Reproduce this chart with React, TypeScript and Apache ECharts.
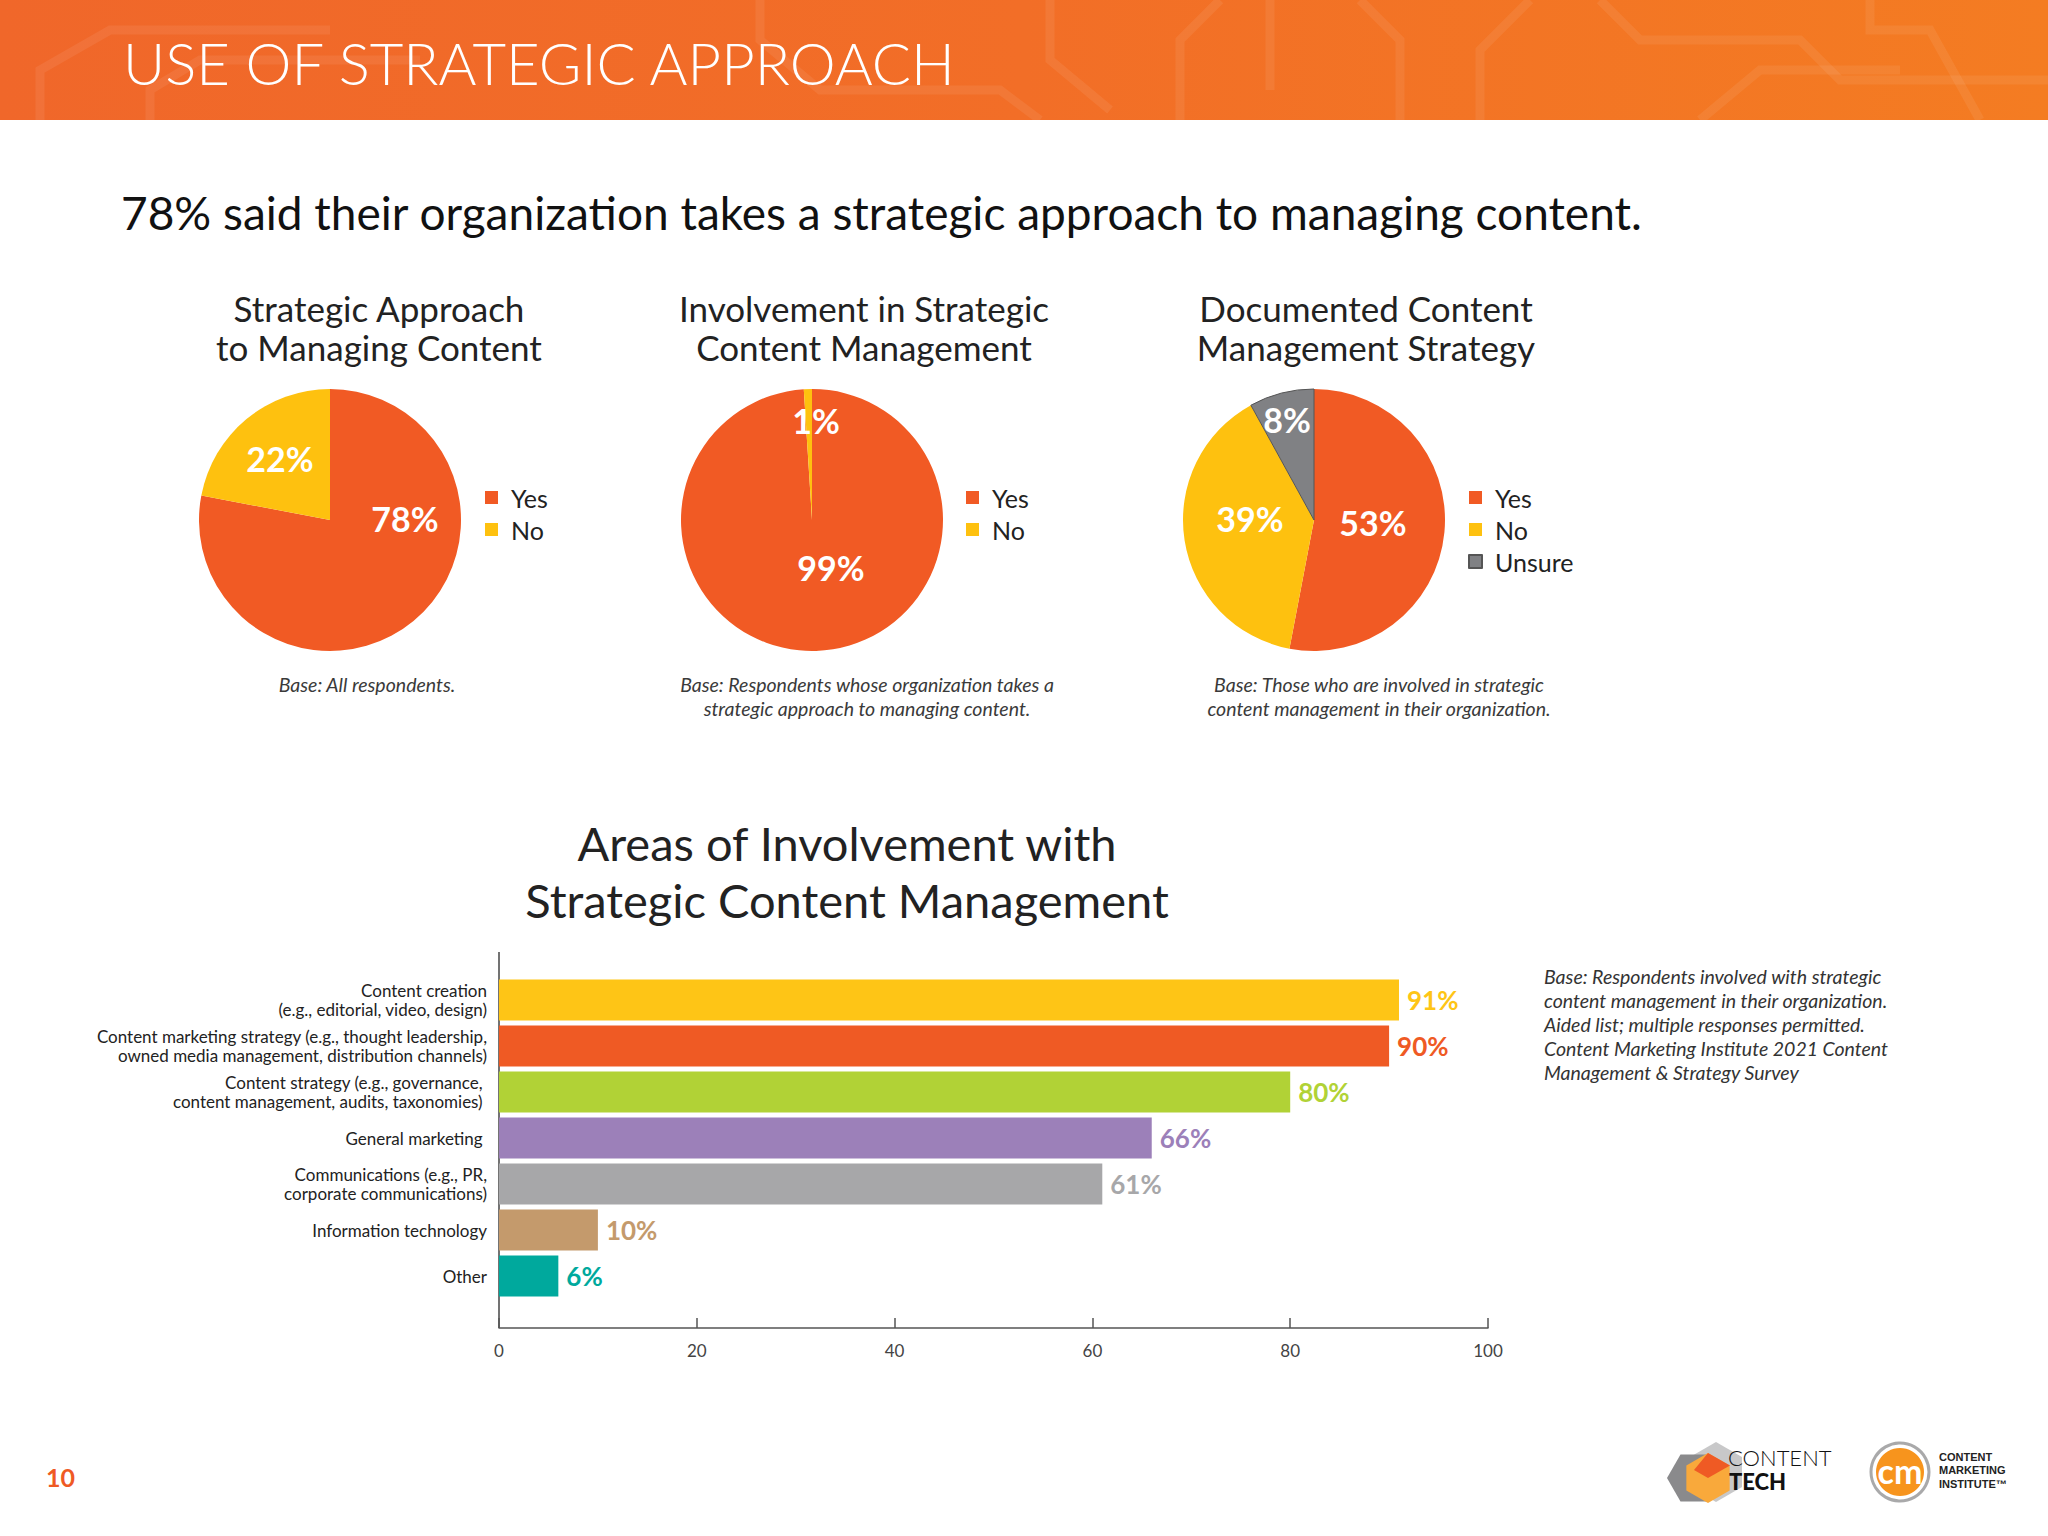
import React, { useEffect, useRef } from "react";
import * as echarts from "echarts";

// ---------- DATA ----------
const pageTitle = "USE OF STRATEGIC APPROACH";
const headline = "78% said their organization takes a strategic approach to managing content.";

const pieTitles = [
  "Strategic Approach\nto Managing Content",
  "Involvement in Strategic\nContent Management",
  "Documented Content\nManagement Strategy",
];
const pie1Names = ["Yes", "No"];
const pie1Values = [78, 22];
const pie2Names = ["Yes", "No"];
const pie2Values = [99, 1];
const pie3Names = ["Yes", "No", "Unsure"];
const pie3Values = [53, 39, 8];
const pieBases = [
  "Base: All respondents.",
  "Base: Respondents whose organization takes a\nstrategic approach to managing content.",
  "Base: Those who are involved in strategic\ncontent management in their organization.",
];

const barTitleLines = ["Areas of Involvement with", "Strategic Content Management"];
const barCategories = [
  "Content creation\n(e.g., editorial, video, design)",
  "Content marketing strategy (e.g., thought leadership,\nowned media management, distribution channels)",
  "Content strategy (e.g., governance, \ncontent management, audits, taxonomies) ",
  "General marketing ",
  "Communications (e.g., PR,\ncorporate communications)",
  "Information technology",
  "Other",
];
const barValues = [91, 90, 80, 66, 61, 10, 6];
const barNote =
  "Base: Respondents involved with strategic\ncontent management in their organization.\nAided list; multiple responses permitted.\nContent Marketing Institute 2021 Content\nManagement & Strategy Survey";
const pageNumber = "10";

// ---------- STYLE ----------
const sliceColors: Record<string, string> = { Yes: "#F15A24", No: "#FEC10F", Unsure: "#808184" };
const barColors = ["#FEC516", "#EF5A24", "#B1D236", "#9C80B9", "#A7A7A9", "#C49A6C", "#00A99D"];
const FONT = "Lato";

const pieCenters = [[330, 520], [812, 520], [1314, 520]];
const pieRadius = 131;
const pieLabelPos = [
  [[405, 518], [280, 458]],
  [[831, 567], [816, 420]],
  [[1373, 522], [1250, 518], [1287, 419]],
];

function pieSeries(names: string[], values: number[], idx: number) {
  return {
    type: "pie",
    center: pieCenters[idx],
    radius: pieRadius,
    startAngle: 90,
    clockwise: true,
    silent: true,
    data: names.map((n, i) => ({
      name: n,
      value: values[i],
      itemStyle: {
        color: sliceColors[n],
        borderColor: n === "Unsure" ? "#555" : sliceColors[n],
        borderWidth: n === "Unsure" ? 1 : 0,
      },
    })),
    label: {
      show: true,
      position: "inside",
      formatter: "{c}%",
      color: "#fff",
      fontSize: 34,
      fontWeight: "bold",
      fontFamily: FONT,
    },
    labelLine: { show: false },
    labelLayout: (p: any) => {
      const pos = pieLabelPos[idx][p.dataIndex];
      return { x: pos[0], y: pos[1], align: "center", verticalAlign: "middle" };
    },
  };
}

function legendAt(names: string[], left: number) {
  return {
    data: names,
    left,
    top: 480,
    orient: "vertical",
    icon: "rect",
    itemWidth: 13,
    itemHeight: 13,
    itemGap: 7,
    selectedMode: false,
    textStyle: { fontSize: 25, lineHeight: 25, color: "#222", fontFamily: FONT, padding: [0, 0, 0, 8] },
  };
}

function hexPts(cx: number, cy: number, r: number, flat: boolean) {
  const pts: number[][] = [];
  for (let i = 0; i < 6; i++) {
    const a = ((flat ? 0 : 30) + 60 * i) * (Math.PI / 180);
    pts.push([cx + r * Math.cos(a), cy + r * Math.sin(a)]);
  }
  return pts;
}

const circuit = [
  [[40, 120], [40, 70], [110, 30], [330, 30]],
  [[150, 120], [150, 90], [200, 60], [420, 60]],
  [[760, 0], [760, 40], [820, 90], [1000, 90], [1040, 120]],
  [[1050, 0], [1050, 60], [1110, 110]],
  [[1180, 120], [1180, 40], [1220, 0]],
  [[1270, 0], [1270, 90]],
  [[1360, 0], [1400, 40], [1400, 120]],
  [[1480, 120], [1480, 50], [1530, 0]],
  [[1600, 0], [1640, 40], [1800, 40], [1840, 80], [2048, 80]],
  [[1700, 120], [1760, 70], [1900, 70]],
  [[1870, 0], [1870, 30], [1930, 30], [1980, 120]],
];

export default function App() {
  const ref = useRef<HTMLDivElement>(null);

  useEffect(() => {
    const chart = echarts.init(ref.current!, null, { renderer: "svg", width: 2048, height: 1536 });

    const graphic: any[] = [
      {
        type: "rect",
        shape: { x: 0, y: 0, width: 2048, height: 120 },
        style: {
          fill: new echarts.graphic.LinearGradient(0, 0, 1, 0, [
            { offset: 0, color: "#F0672A" },
            { offset: 0.5, color: "#F26E27" },
            { offset: 1, color: "#F47C22" },
          ]),
        },
        silent: true,
      },
      ...circuit.map((pts) => ({
        type: "polyline",
        shape: { points: pts },
        style: { stroke: "rgba(255,255,255,0.07)", lineWidth: 9, fill: null },
        silent: true,
      })),
      {
        type: "text",
        x: 123,
        y: 62,
        style: {
          text: pageTitle,
          fill: "#fff",
          fontSize: 58,
          fontWeight: 300,
          fontFamily: FONT,
          align: "left",
          verticalAlign: "middle",
        },
      },
      {
        type: "text",
        x: 121,
        y: 212,
        style: {
          text: headline,
          fill: "#111",
          fontSize: 46,
          fontFamily: FONT,
          align: "left",
          verticalAlign: "middle",
        },
      },
      ...pieTitles.map((t, i) => ({
        type: "text",
        x: [379, 864, 1366][i],
        y: 327,
        style: {
          text: t,
          fill: "#222",
          fontSize: 35,
          lineHeight: 39,
          fontFamily: FONT,
          align: "center",
          verticalAlign: "middle",
        },
      })),
      ...pieBases.map((t, i) => ({
        type: "text",
        x: [367, 867, 1379][i],
        y: 672,
        style: {
          text: t,
          fill: "#3a3a3a",
          fontSize: 19.5,
          lineHeight: 24,
          fontStyle: "italic",
          fontFamily: FONT,
          align: "center",
          verticalAlign: "top",
        },
      })),
      ...barTitleLines.map((t, i) => ({
        type: "text",
        x: 847,
        y: 843 + i * 57,
        style: {
          text: t,
          fill: "#222",
          fontSize: 47,
          fontFamily: FONT,
          align: "center",
          verticalAlign: "middle",
        },
      })),
      {
        type: "line",
        shape: { x1: 499, y1: 952, x2: 499, y2: 1328 },
        style: { stroke: "#444", lineWidth: 1.5 },
      },
      {
        type: "text",
        x: 1544,
        y: 964,
        style: {
          text: barNote,
          fill: "#333",
          fontSize: 19.5,
          lineHeight: 24,
          fontStyle: "italic",
          fontFamily: FONT,
          align: "left",
          verticalAlign: "top",
        },
      },
      {
        type: "text",
        x: 46,
        y: 1477,
        style: {
          text: pageNumber,
          fill: "#EF5A24",
          fontSize: 25,
          fontWeight: "bold",
          fontFamily: FONT,
          align: "left",
          verticalAlign: "middle",
        },
      },
      // Content Tech logo
      { type: "polygon", shape: { points: hexPts(1716, 1472, 30, false) }, style: { fill: "#C8C8C9" } },
      { type: "polygon", shape: { points: hexPts(1694, 1478, 27, true) }, style: { fill: "#8A8A8C" } },
      { type: "polygon", shape: { points: hexPts(1708, 1478, 25, false) }, style: { fill: "#F9A93B" } },
      {
        type: "polygon",
        shape: { points: [[1708, 1453], [1730, 1465.5], [1708, 1478], [1694, 1470]] },
        style: { fill: "#EF5A24" },
      },
      {
        type: "text",
        x: 1728,
        y: 1457,
        style: { text: "CONTENT", fill: "#111", fontSize: 22, fontWeight: 300, fontFamily: FONT, align: "left", verticalAlign: "middle" },
      },
      {
        type: "text",
        x: 1729,
        y: 1481,
        style: { text: "TECH", fill: "#111", fontSize: 22, fontWeight: 900, fontFamily: FONT, align: "left", verticalAlign: "middle" },
      },
      // CMI logo
      { type: "circle", shape: { cx: 1900, cy: 1472, r: 29 }, style: { fill: "#fff", stroke: "#A9A9AA", lineWidth: 3 } },
      { type: "circle", shape: { cx: 1900, cy: 1472, r: 24 }, style: { fill: "#F7941D" } },
      {
        type: "text",
        x: 1900,
        y: 1470,
        style: { text: "cm", fill: "#fff", fontSize: 34, fontWeight: "bold", fontFamily: FONT, align: "center", verticalAlign: "middle" },
      },
      {
        type: "text",
        x: 1939,
        y: 1450,
        style: {
          text: "CONTENT\nMARKETING\nINSTITUTE™",
          fill: "#222",
          fontSize: 11,
          lineHeight: 13.5,
          fontWeight: "bold",
          fontFamily: "Liberation Sans",
          align: "left",
          verticalAlign: "top",
        },
      },
    ];

    const option: any = {
      animation: false,
      backgroundColor: "#ffffff",
      legend: [legendAt(pie1Names, 480), legendAt(pie2Names, 961), legendAt(pie3Names, 1463)],
      grid: [{ left: 499, top: 977, width: 989, height: 322, containLabel: false }],
      xAxis: [
        {
          type: "value",
          min: 0,
          max: 100,
          interval: 20,
          offset: 29,
          axisLine: { show: true, lineStyle: { color: "#555", width: 1.5 } },
          axisTick: { show: true, inside: true, length: 10, lineStyle: { color: "#555", width: 1.5 } },
          axisLabel: { fontSize: 17, color: "#444", fontFamily: FONT, margin: 14 },
          splitLine: { show: false },
        },
      ],
      yAxis: [
        {
          type: "category",
          data: barCategories,
          inverse: true,
          axisLine: { show: false },
          axisTick: { show: false },
          axisLabel: { fontSize: 17, lineHeight: 19, color: "#222", fontFamily: FONT, margin: 12 },
        },
      ],
      series: [
        pieSeries(pie1Names, pie1Values, 0),
        pieSeries(pie2Names, pie2Values, 1),
        pieSeries(pie3Names, pie3Values, 2),
        {
          type: "bar",
          barWidth: 41,
          silent: true,
          data: barValues.map((v, i) => ({
            value: v,
            itemStyle: { color: barColors[i] },
            label: { color: barColors[i] },
          })),
          label: {
            show: true,
            position: "right",
            distance: 8,
            formatter: "{c}%",
            fontSize: 26,
            fontWeight: "bold",
            fontFamily: FONT,
          },
        },
      ],
      graphic,
    };

    chart.setOption(option);
    return () => chart.dispose();
  }, []);

  return (
    <div
      ref={ref}
      style={{ position: "absolute", left: 0, top: 0, width: 2048, height: 1536, background: "#fff" }}
    />
  );
}
